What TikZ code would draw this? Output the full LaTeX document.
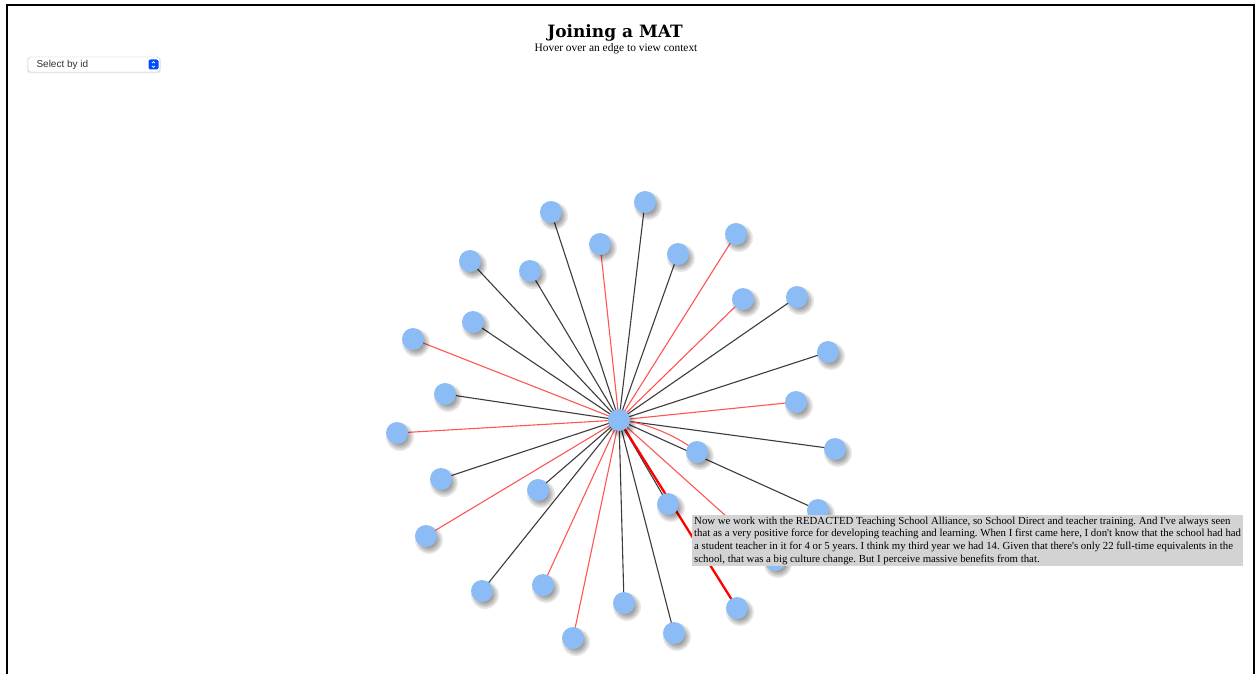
\documentclass[tikz,border=0pt]{standalone}
\usepackage{fontspec}
\setmainfont{Liberation Serif}
\newfontfamily\titlefont{DejaVu Serif}
\newfontfamily\uifont{Liberation Sans}
\definecolor{nodeblue}{RGB}{140,188,246}
\definecolor{edgeblack}{RGB}{60,60,60}
\definecolor{edgered}{RGB}{255,85,85}
\definecolor{tipgray}{RGB}{211,211,211}
\tikzset{
  person/.style={circle, fill=nodeblue, minimum size=22pt, inner sep=0pt},
  shade ring/.style={fill=black, opacity=0.085},
  blk/.style={draw=edgeblack, line width=1.1pt},
  rd/.style={draw=edgered, line width=1.1pt},
  hot/.style={draw=red, line width=2.3pt},
}
\frenchspacing
\begin{document}
\begin{tikzpicture}[x=1pt,y=-1pt]
\useasboundingbox (0,0) rectangle (1259,674);
\fill[white] (0,0) rectangle (1259,674);
% frame
\draw[line width=1.2pt] (7,674) -- (7,5) -- (1254,5) -- (1254,674);
% title
\node[font=\titlefont\bfseries\fontsize{17}{20}\selectfont] (title) at (615,33) {Joining a MAT};
\node[font=\fontsize{11.4}{13}\selectfont] (sub) at (616,49) {Hover over an edge to view context};
% select box
\fill[black, opacity=0.08, rounded corners=3.5pt] (27,57) rectangle (161,73.5);
\node[draw=black!20, fill=white, rounded corners=3pt, minimum width=132pt, minimum height=15pt, inner sep=0pt] (sel) at (94,64.5) {};
\node[anchor=west, font=\uifont\fontsize{10}{12}\selectfont, text=black!80] (seltxt) at (33,64.5) {Select by id};
\node[fill=blue!70!cyan, rounded corners=2pt, minimum size=10pt, inner sep=0pt] (selbtn) at (153.5,64.5) {};
\draw[white, line width=0.8pt] (152,63) -- (153.5,61.7) -- (155,63);
\draw[white, line width=0.8pt] (152,66) -- (153.5,67.3) -- (155,66);
% nodes coordinates
\coordinate (c0) at (619,420);
\foreach \i/\x/\y in {1/551/212, 2/645/202, 3/600/244, 4/678/254, 5/736/234, 6/470/261, 7/530/271,
  8/743/299, 9/797/297, 10/473/322, 11/828/352, 12/413/339, 13/796/402, 14/445/394, 15/397/433,
  16/835/449, 17/697/452, 18/441/479, 19/538/490, 20/668/504, 21/818/510, 22/426/536, 23/775/560,
  24/482/591, 25/543/585, 26/624/603, 27/737/608, 28/573/638, 29/674/633}
  {\coordinate (p\i) at (\x,\y);}
\coordinate (p0) at (c0);
% edges
\foreach \i in {1,2,4,6,7,9,10,11,14,16,18,19,20,21,24,26,29}
  \draw[blk] (c0) -- (p\i);
\foreach \i in {3,5,8,12,13,15,22,23,25,28}
  \draw[rd] (c0) -- (p\i);
\draw[rd] (c0) .. controls +(32,3) and +(-14,-12) .. (p17);
\draw[hot] (c0) -- (p27);
% shadows
\foreach \i in {0,...,29}
  \foreach \r in {8,9.5,11,12.5,14}
    \fill[shade ring] ([shift={(3,4)}]p\i) circle (\r);
% nodes
\foreach \i in {1,...,29}
  \node[person] (n\i) at (p\i) {};
\node[person] (center) at (c0) {};
% tooltip
\node[fill=tipgray, anchor=north west, inner xsep=2pt, inner ysep=1.5pt, align=left,
  font=\fontsize{10.8}{12.7}\selectfont] (tip) at (692,515) {Now we work with the REDACTED Teaching School Alliance, so School Direct and teacher training. And I\textquotesingle ve always seen\\
that as a very positive force for developing teaching and learning. When I first came here, I don\textquotesingle t know that the school had had\\
a student teacher in it for 4 or 5 years. I think my third year we had 14. Given that there\textquotesingle s only 22 full-time equivalents in the\\
school, that was a big culture change. But I perceive massive benefits from that.};
\end{tikzpicture}
\end{document}
